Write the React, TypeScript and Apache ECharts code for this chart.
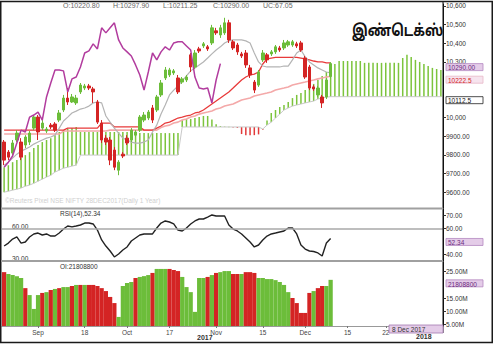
import React, { useEffect, useRef } from "react";
import * as echarts from "echarts";

const FONT = "'Liberation Sans', Arial, sans-serif";

// [open, close, low, high]
const candles: number[][] = [
  [9869, 9772, 9745, 9880], [9815, 9788, 9772, 9826], [9810, 9864, 9794, 9880], [9880, 9917, 9869, 9933],
  [9869, 9788, 9772, 9890], [9853, 9896, 9837, 9906], [9869, 9917, 9853, 9928], [9944, 10003, 9933, 10014],
  [10003, 9923, 9880, 10014], [9944, 9971, 9933, 9987], [9928, 9939, 9917, 9950], [9960, 9950, 9939, 9971],
  [9966, 9933, 9923, 9976], [9987, 10025, 9976, 10041], [10041, 10105, 10030, 10122], [10105, 10084, 10068, 10159],
  [10084, 10111, 10079, 10127], [10079, 10105, 10068, 10122], [10138, 10175, 10127, 10186], [10159, 10170, 10148, 10181],
  [10170, 10159, 10148, 10181], [10154, 10138, 10079, 10165], [10084, 9976, 9966, 10095], [9971, 9880, 9864, 9987],
  [9890, 9869, 9853, 9906], [9880, 9772, 9745, 9896], [9826, 9734, 9718, 9842], [9718, 9761, 9691, 9772],
  [9804, 9794, 9783, 9815], [9890, 9864, 9853, 9906], [9880, 9933, 9869, 9944], [9906, 9923, 9896, 9933],
  [9933, 10003, 9923, 10014], [9987, 10014, 9976, 10030], [9998, 10030, 9987, 10041], [10052, 9987, 9971, 10068],
  [10041, 10111, 10030, 10122], [10122, 10186, 10111, 10202], [10213, 10256, 10202, 10272], [10229, 10256, 10218, 10267],
  [10240, 10251, 10229, 10261], [10213, 10138, 10127, 10229], [10191, 10208, 10181, 10218], [10202, 10218, 10191, 10229],
  [10337, 10272, 10245, 10347], [10272, 10347, 10261, 10363], [10369, 10358, 10347, 10380], [10385, 10396, 10374, 10406],
  [10380, 10369, 10358, 10390], [10401, 10482, 10390, 10498], [10466, 10455, 10444, 10482], [10444, 10482, 10428, 10498],
  [10455, 10509, 10444, 10536], [10509, 10417, 10401, 10525], [10407, 10374, 10363, 10417], [10390, 10353, 10337, 10401],
  [10342, 10331, 10320, 10353], [10347, 10283, 10267, 10363], [10267, 10229, 10213, 10283], [10191, 10148, 10132, 10202],
  [10175, 10245, 10165, 10256], [10310, 10347, 10299, 10363], [10337, 10310, 10294, 10347], [10342, 10353, 10331, 10363],
  [10353, 10380, 10342, 10390], [10374, 10363, 10353, 10385], [10374, 10401, 10363, 10417], [10390, 10407, 10380, 10417],
  [10390, 10407, 10380, 10417], [10396, 10385, 10374, 10407], [10401, 10363, 10353, 10412], [10320, 10218, 10208, 10331],
  [10272, 10159, 10148, 10283], [10165, 10154, 10143, 10175], [10122, 10159, 10111, 10170], [10111, 10079, 10052, 10122],
  [10111, 10202, 10100, 10213], [10220.8, 10290, 10211.25, 10297.9],
];

const tenkan = [
  9745, 9761, 9783, 9804, 9820, 9831, 9842, 9858, 9869, 9880,
  9890, 9896, 9906, 9944, 9982, 10003, 10025, 10035, 10046, 10052,
  10062, 10079, 10084, 10079, 10009, 9976, 9944, 9917, 9890, 9880,
  9869, 9863, 9863, 9869, 9880, 9923, 9960, 10020, 10068, 10122,
  10148, 10170, 10197, 10224, 10251, 10267, 10283, 10299, 10320, 10342,
  10363, 10380, 10401, 10412, 10417, 10417, 10417, 10412, 10401, 10347,
  10299, 10277, 10272, 10272, 10272, 10272, 10277, 10277, 10310, 10347,
  10363, 10326, 10299, 10283, 10267, 10256, 10245, 10240,
];

const kijun = [
  9933, 9933, 9933, 9933, 9933, 9933, 9933, 9933, 9933, 9933, 9933, 9933, 9933, 9933, 9933,
  9944, 9944, 9944, 9944, 9944, 9944, 9944, 9944,
  9971, 9971, 9971,
  9950, 9950, 9950, 9950, 9950, 9950, 9950,
  9933, 9933, 9933,
  9944, 9955, 9971, 9976, 9987, 9998, 10003, 10009, 10014, 10025,
  10030, 10041, 10057, 10073, 10089, 10105, 10122, 10138, 10159, 10181,
  10202, 10218, 10229, 10234, 10245, 10288, 10315, 10320,
  10323, 10323, 10323, 10323, 10323, 10323,
  10320, 10315, 10310, 10304, 10299, 10299, 10294, 10294,
];

const maLine = [
  9912, 9912, 9912, 9912, 9912, 9912, 9912, 9912, 9912, 9912, 9912, 9912, 9912, 9912,
  9928, 9928, 9928, 9928, 9928, 9928, 9928, 9928, 9928, 9928, 9928,
  9933, 9933, 9933, 9933, 9933, 9933, 9933, 9933, 9933, 9933, 9933, 9933,
  9947, 9955, 9960, 9971, 9976, 9987, 9993, 10003, 10009, 10019,
  10025, 10030, 10036, 10046, 10052, 10062, 10068, 10073, 10084, 10095,
  10100, 10105, 10116, 10122, 10127, 10132, 10138, 10148, 10154, 10159,
  10165, 10175, 10181, 10186, 10191, 10197, 10202, 10208, 10213, 10218,
  10222.5,
];

// Ichimoku cloud (26 slots beyond the last candle)
const spanA = [
  9734, 9745, 9761, 9772, 9783, 9799, 9815, 9837, 9853, 9869, 9880, 9890, 9906, 9923, 9933, 9939, 9944, 9950,
  9923, 9923, 9923, 9923, 9923, 9923, 9923, 9923, 9923, 9923, 9923, 9923,
  9917, 9917, 9917, 9917, 9917, 9917, 9917, 9917, 9917, 9917, 9917, 9917,
  9987, 9993, 9993, 9998, 10003, 10009, 10009, 9990, 9965,
  9955, 9952, 9951, 9949, 9945,
  9912, 9906, 9906, 9906, 9910,
  9935, 9985,
  10025, 10041, 10057, 10068, 10084, 10105, 10122, 10132, 10148, 10165, 10181, 10202, 10224, 10245, 10267, 10288,
  10304, 10304, 10304, 10304, 10304, 10304,
  10294, 10294, 10294, 10294, 10294, 10294, 10294, 10294, 10294,
  10320, 10337, 10326, 10310, 10299, 10288, 10277, 10267, 10261, 10256,
];

const spanB = [
  9600, 9605, 9611, 9616, 9622, 9632, 9638, 9648, 9659, 9670, 9681, 9691, 9708, 9718, 9729, 9734, 9740, 9745,
  9799, 9799, 9799, 9799, 9799, 9799, 9799, 9799, 9799, 9799, 9799, 9799,
  9799, 9799, 9799, 9799, 9799, 9799, 9799, 9799, 9799, 9799, 9799, 9799,
  9950, 9950, 9950, 9950, 9950, 9950, 9950, 9950, 9950, 9950,
  9950, 9950, 9950, 9950, 9950, 9950, 9950, 9950, 9950,
  9939, 9960, 9976, 9998, 10019, 10041, 10052, 10062, 10068, 10073, 10079, 10084, 10089, 10100, 10105, 10110,
  10112.5, 10112.5, 10112.5, 10112.5, 10112.5, 10112.5, 10112.5, 10112.5, 10112.5,
  10112.5, 10112.5, 10112.5, 10112.5, 10112.5, 10112.5, 10112.5, 10112.5, 10112.5,
  10112.5, 10112.5, 10112.5, 10112.5, 10112.5, 10112.5, 10112.5, 10112.5, 10112.5,
];

const rsi = [
  46.5, 48.8, 51.9, 53.5, 48.8, 49.6, 53.5, 55.8, 56.5, 55.0,
  55.8, 54.2, 54.2, 56.5, 59.6, 61.9, 61.2, 61.9, 62.7, 64.2,
  64.2, 63.5, 58.8, 51.2, 46.5, 42.7, 38.1, 40.4, 43.5, 45.8,
  50.4, 52.7, 55.0, 55.8, 55.8, 55.8, 60.4, 64.2, 65.8, 65.0,
  63.5, 58.8, 58.1, 60.4, 63.5, 65.8, 67.3, 67.3, 68.8, 70.4,
  69.6, 69.6, 69.6, 62.7, 59.6, 58.1, 55.8, 52.7, 49.6, 45.8,
  47.3, 51.2, 54.2, 55.8, 56.5, 57.3, 58.1, 60.4, 60.4, 55.8,
  47.3, 44.2, 42.7, 42.3, 41.2, 38.8, 48.8, 52.34,
];

// open interest, millions
const oi = [
  24.7, 24.0, 23.6, 23.2, 22.5, 18.7, 16.1, 10.9, 16.1, 16.9,
  17.2, 18.0, 18.4, 18.7, 19.1, 19.1, 19.5, 19.9, 19.9, 19.9,
  19.9, 19.9, 19.5, 18.7, 17.6, 15.4, 13.1, 7.9, 19.5, 20.6,
  21.0, 22.5, 22.9, 23.2, 23.6, 24.4, 25.9, 25.9, 25.9, 25.9,
  25.5, 25.1, 22.9, 19.1, 17.2, 9.8, 22.5, 22.5, 22.9, 23.6,
  24.4, 24.7, 25.1, 25.1, 24.0, 24.0, 24.0, 24.7, 24.7, 24.4,
  22.5, 22.5, 22.1, 22.1, 21.7, 21.0, 19.9, 17.2, 15.0, 13.1,
  9.4, 9.4, 16.9, 17.6, 18.7, 19.5, 19.5, 21.81,
];
const oiColor = "rggggrgggrgrgrggrgrgrrrrrrrggggrgggrgggrrrggggggrgrgggrrgrrrggggggggrrrrrgrrgg";

const xLabelAt: Record<number, string> = {
  8: "Sep", 19: "18", 29: "Oct", 39: "17", 50: "Nov", 61: "15", 71: "Dec", 81: "15", 90: "22",
};
const FUTURE = 26;
// tick labels (those hidden behind the value boxes are left out)
const mainTicks = [9600, 9700, 9800, 9900, 10000, 10300, 10400, 10500, 10600];
const rsiTicks = [40, 60, 70];
const oiTicks = [5, 10, 15, 25];

const GREEN = "#6cbd3a";
const RED = "#d42424";
const CLOUD_G = "#7cc43c";
const CLOUD_R = "#e23a3a";

export default function App() {
  const ref = useRef<HTMLDivElement>(null);
  useEffect(() => {
    const el = ref.current!;
    const chart = echarts.init(el, null, { renderer: "svg", width: 500, height: 346 });
    const total = candles.length + FUTURE;
    const categories = Array.from({ length: total }, (_, i) => xLabelAt[i] ?? "");
    const closes = candles.map((c) => c[1]);
    const chikou = categories.map((_, i) => (i + FUTURE < closes.length ? closes[i + FUTURE] : null));
    const cloudData = spanA.map((a, i) => [i, a, spanB[i]]);

    const xAxes = [0, 1, 2].map((g) => ({
      type: "category",
      gridIndex: g,
      data: categories,
      boundaryGap: true,
      axisLine: { show: g === 2, lineStyle: { color: "#999", width: 1 } },
      axisTick: {
        show: g === 2,
        alignWithLabel: true,
        interval: (_i: number, v: string) => v !== "",
        length: 2,
        lineStyle: { color: "#777" },
      },
      axisLabel: {
        show: g === 2,
        interval: (_i: number, v: string) => v !== "",
        fontSize: 6.5,
        color: "#444",
        margin: 3,
        fontFamily: FONT,
      },
      splitLine: { show: false },
    }));

    const yBase = {
      type: "value",
      position: "right",
      splitLine: { show: false },
      axisLine: { show: true, lineStyle: { color: "#111", width: 1 } },
    };

    const staticGraphics: any[] = [
      { type: "rect", shape: { x: 0.75, y: 1.5, width: 491.5, height: 341 }, style: { fill: "none", stroke: "#1a1a1a", lineWidth: 1.5 }, silent: true, z: 50 },
      { type: "line", shape: { x1: 443, y1: 2, x2: 443, y2: 333 }, style: { stroke: "#111", lineWidth: 1 }, silent: true, z: 50 },
      { type: "line", shape: { x1: 1, y1: 208.5, x2: 443, y2: 208.5 }, style: { stroke: "#a0a0a0", lineWidth: 2 }, silent: true, z: 50 },
      { type: "line", shape: { x1: 1, y1: 261, x2: 443, y2: 261 }, style: { stroke: "#a0a0a0", lineWidth: 2 }, silent: true, z: 50 },
      { type: "text", x: 63, y: 2, style: { text: "O:10220.80", fontSize: 7, fill: "#666", fontFamily: FONT } },
      { type: "text", x: 113, y: 2, style: { text: "H:10297.90", fontSize: 7, fill: "#666", fontFamily: FONT } },
      { type: "text", x: 163, y: 2, style: { text: "L:10211.25", fontSize: 7, fill: "#666", fontFamily: FONT } },
      { type: "text", x: 213, y: 2, style: { text: "C:10290.00", fontSize: 7, fill: "#666", fontFamily: FONT } },
      { type: "text", x: 263, y: 2, style: { text: "UC:67.05", fontSize: 7, fill: "#666", fontFamily: FONT } },
      {
        type: "text", x: 352, y: 24, scaleX: 0.8, scaleY: 1,
        style: { text: "இண்டெக்ஸ்", fontSize: 16, fontWeight: "bold", fill: "#111", fontFamily: "'Noto Sans Tamil', 'Lohit Tamil', 'FreeSans', sans-serif" },
        z: 60,
      },
      { type: "text", x: 5, y: 197, style: { text: "©Reuters Pixel NSE NIFTY 28DEC2017(Daily 1 Year)", fontSize: 6.5, fill: "#cfcfcf", fontFamily: FONT } },
      { type: "text", x: 60, y: 210, style: { text: "RSI(14),52.34", fontSize: 6.5, fill: "#333", fontFamily: FONT } },
      { type: "text", x: 12, y: 222.5, style: { text: "60.00", fontSize: 6.5, fill: "#333", fontFamily: FONT } },
      { type: "text", x: 12, y: 255, style: { text: "30.00", fontSize: 6.5, fill: "#333", fontFamily: FONT } },
      { type: "text", x: 60, y: 262.5, style: { text: "OI:21808800", fontSize: 6.5, fill: "#333", fontFamily: FONT } },
      { type: "rect", shape: { x: 389, y: 325, width: 54, height: 8 }, style: { fill: "#e4cce8", stroke: "#a27ab0", lineWidth: 0.8 }, z: 60 },
      { type: "text", x: 392, y: 326, style: { text: "8 Dec 2017", fontSize: 6.5, fill: "#333", fontFamily: FONT }, z: 61 },
      { type: "text", x: 197, y: 333.5, style: { text: "2017", fontSize: 7, fontWeight: "bold", fill: "#333", fontFamily: FONT } },
      { type: "text", x: 416, y: 333, style: { text: "2018", fontSize: 7, fontWeight: "bold", fill: "#333", fontFamily: FONT } },
    ];

    const option: any = {
      animation: false,
      backgroundColor: "#ffffff",
      textStyle: { fontFamily: FONT },
      grid: [
        { left: 2, top: 4, width: 441, height: 204 },
        { left: 2, top: 209, width: 441, height: 52 },
        { left: 2, top: 262, width: 441, height: 64 },
      ],
      xAxis: xAxes,
      yAxis: [
        {
          ...yBase,
          gridIndex: 0,
          min: 9515,
          max: 10610,
          axisTick: { show: true, length: 3, customValues: mainTicks, lineStyle: { color: "#333" } },
          axisLabel: {
            customValues: mainTicks,
            formatter: (v: number) => (v >= 10000 ? v.toLocaleString("en-US") : v.toFixed(2)),
            fontSize: 6.5,
            color: "#333",
            margin: 3,
            fontFamily: FONT,
          },
        },
        {
          ...yBase,
          gridIndex: 1,
          min: 35,
          max: 75,
          axisTick: { show: true, length: 3, customValues: rsiTicks, lineStyle: { color: "#333" } },
          axisLabel: {
            customValues: rsiTicks,
            formatter: (v: number) => v.toFixed(2),
            fontSize: 6.5,
            color: "#333",
            margin: 3,
            fontFamily: FONT,
          },
        },
        {
          ...yBase,
          gridIndex: 2,
          min: 4.5,
          max: 28.5,
          axisTick: { show: true, length: 3, customValues: oiTicks, lineStyle: { color: "#333" } },
          axisLabel: {
            customValues: oiTicks,
            formatter: (v: number) => `${v.toFixed(2)}M`,
            fontSize: 6.5,
            color: "#333",
            margin: 3,
            fontFamily: FONT,
          },
        },
      ],
      series: [
        {
          type: "custom",
          name: "cloud",
          xAxisIndex: 0,
          yAxisIndex: 0,
          data: cloudData,
          encode: { x: 0, y: [1, 2] },
          renderItem: (_p: any, api: any) => {
            const i = api.value(0);
            const a = api.value(1);
            const b = api.value(2);
            const p1 = api.coord([i, a]);
            const p2 = api.coord([i, b]);
            const w = 1.5;
            return {
              type: "rect",
              shape: { x: p1[0] - w / 2, y: Math.min(p1[1], p2[1]), width: w, height: Math.max(0.5, Math.abs(p2[1] - p1[1])) },
              style: { fill: a >= b ? CLOUD_G : CLOUD_R },
            };
          },
          z: 1,
        },
        {
          type: "line", name: "spanB", xAxisIndex: 0, yAxisIndex: 0, data: spanB, symbol: "none",
          lineStyle: { color: "#c9c9c9", width: 1 }, z: 2,
        },
        {
          type: "line", name: "ma", xAxisIndex: 0, yAxisIndex: 0, data: maLine, symbol: "none",
          lineStyle: { color: "#f4a9a9", width: 1.6 }, z: 3,
        },
        {
          type: "line", name: "kijun", xAxisIndex: 0, yAxisIndex: 0, data: kijun, symbol: "none",
          lineStyle: { color: "#e83a3a", width: 1.3 }, z: 3,
        },
        {
          type: "line", name: "tenkan", xAxisIndex: 0, yAxisIndex: 0, data: tenkan, symbol: "none",
          lineStyle: { color: "#b4b4b4", width: 1.2 }, z: 3,
        },
        {
          type: "candlestick",
          name: "price",
          xAxisIndex: 0,
          yAxisIndex: 0,
          data: candles,
          barWidth: 3,
          itemStyle: { color: GREEN, color0: RED, borderColor: GREEN, borderColor0: RED, borderWidth: 1 },
          z: 4,
        },
        {
          type: "line", name: "chikou", xAxisIndex: 0, yAxisIndex: 0, data: chikou, symbol: "none",
          connectNulls: false, lineStyle: { color: "#b23c9e", width: 1.5 }, z: 5,
        },
        {
          type: "line",
          name: "rsi",
          xAxisIndex: 1,
          yAxisIndex: 1,
          data: rsi,
          symbol: "none",
          lineStyle: { color: "#222", width: 1.4 },
          markLine: {
            symbol: ["none", "none"],
            silent: true,
            label: { show: false },
            data: [{ yAxis: 60, lineStyle: { color: "#a8a8a8", width: 1.5, type: "solid" } }],
          },
          z: 3,
        },
        {
          type: "bar",
          name: "oi",
          xAxisIndex: 2,
          yAxisIndex: 2,
          barCategoryGap: "0%",
          data: oi.map((v, i) => ({ value: v, itemStyle: { color: oiColor[i] === "g" ? "#6cbd3a" : "#d42424" } })),
          z: 2,
        },
      ],
      graphic: staticGraphics,
    };
    chart.setOption(option);

    // value boxes on the right-hand scale, placed through the axes
    const lilac = { bg: "#e4cce8", border: "#b488c0", color: "#6b2a7e" };
    const boxes = [
      { axis: 0, value: closes[closes.length - 1], text: "10290.00", ...lilac },
      { axis: 0, value: maLine[maLine.length - 1], text: "10222.5", bg: "#f6e4ee", border: "#e8b8c8", color: "#d42424" },
      { axis: 0, value: spanB[spanB.length - 1], text: "10112.5", bg: "#ffffff", border: "#222", color: "#111" },
      { axis: 1, value: rsi[rsi.length - 1], text: "52.34", ...lilac },
      { axis: 2, value: oi[oi.length - 1], text: "21808800", ...lilac },
    ];
    const boxGraphics: any[] = [];
    boxes.forEach((b) => {
      const py = chart.convertToPixel({ yAxisIndex: b.axis } as any, b.value) as number;
      boxGraphics.push({
        type: "rect", shape: { x: 446, y: py, width: 37, height: 7 },
        style: { fill: b.bg, stroke: b.border, lineWidth: 0.8 }, z: 70,
      });
      boxGraphics.push({
        type: "text", x: 448, y: py + 0.8,
        style: { text: b.text, fontSize: 6.5, fill: b.color, fontFamily: FONT }, z: 71,
      });
    });
    chart.setOption({ graphic: [...staticGraphics, ...boxGraphics] });
    return () => chart.dispose();
  }, []);
  return (
    <div
      ref={ref}
      style={{ position: "absolute", left: 0, top: 0, width: 500, height: 346, background: "#fff" }}
    />
  );
}
